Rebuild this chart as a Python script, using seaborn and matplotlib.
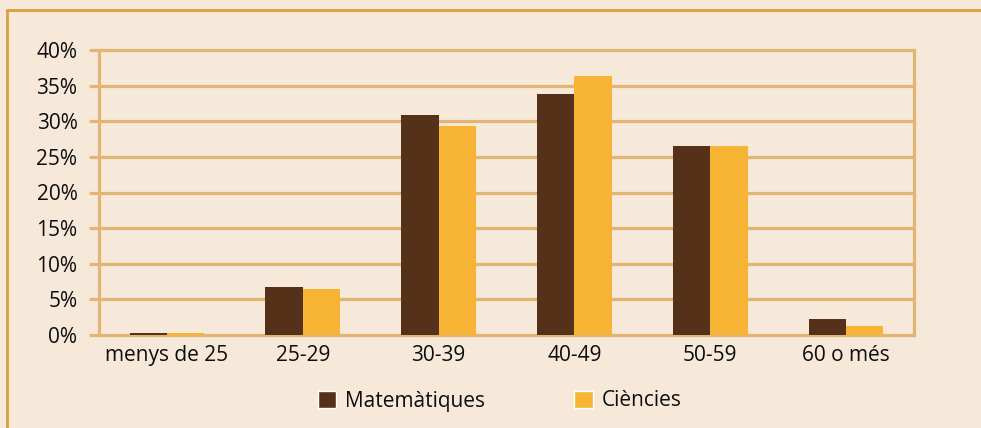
import matplotlib
matplotlib.use("Agg")
import matplotlib.pyplot as plt
import seaborn as sns
import pandas as pd
from matplotlib.lines import Line2D
from matplotlib.patches import Patch
from matplotlib.ticker import FuncFormatter

categories = ["menys de 25", "25-29", "30-39", "40-49", "50-59", "60 o més"]
matematiques = [0.35, 6.7, 30.9, 33.8, 26.5, 2.25]
ciencies = [0.3, 6.5, 29.4, 36.4, 26.5, 1.3]
series_names = ["Matemàtiques", "Ciències"]
yticks = [0, 5, 10, 15, 20, 25, 30, 35, 40]

BG = "#F6E9DA"
GRID = "#E3B574"
FRAME = "#D9A040"
colors = ["#56311A", "#F7B334"]

sns.set_theme(style="white")
plt.rcParams["font.family"] = ["Open Sans", "DejaVu Sans"]

df = pd.DataFrame({
    "cat": categories * 2,
    "val": matematiques + ciencies,
    "serie": [series_names[0]] * len(categories) + [series_names[1]] * len(categories),
})

fig = plt.figure(figsize=(9.81, 4.28), dpi=100, facecolor=BG)
ax = fig.add_axes([99 / 981, 1 - 335 / 428, (914 - 99) / 981, (335 - 50) / 428])
ax.set_facecolor(BG)

sns.barplot(data=df, x="cat", y="val", hue="serie", palette=colors,
            width=0.55, gap=0, saturation=1, ax=ax, legend=False, zorder=3,
            linewidth=0, edgecolor="none")

ax.set_ylim(0, 40)
ax.set_xlim(-0.5, 5.5)
ax.set_yticks(yticks)
ax.yaxis.set_major_formatter(FuncFormatter(lambda v, p: f"{int(v)}%"))
for y in yticks:
    ax.axhline(y, color=GRID, lw=2.3, zorder=1, clip_on=False)
ax.set_xlabel("")
ax.set_ylabel("")
for s in ["top", "bottom"]:
    ax.spines[s].set_visible(False)
for s in ["left", "right"]:
    ax.spines[s].set_visible(True)
    ax.spines[s].set_color(GRID)
    ax.spines[s].set_linewidth(2.3)
ax.tick_params(axis="y", length=7.5, width=2.3, color=GRID, pad=8, labelsize=15, labelcolor="#0d0d0d", left=True)
ax.tick_params(axis="x", length=0, pad=7, labelsize=15, labelcolor="#0d0d0d")

handles = [Patch(facecolor=colors[0]), Patch(facecolor=colors[1])]
fig.legend(handles, series_names, loc="center", bbox_to_anchor=(0.509, 1 - 401 / 428),
           ncol=2, frameon=False, fontsize=15, handlelength=0.9, handleheight=0.9,
           handletextpad=0.4, columnspacing=4.3, labelcolor="#0d0d0d")

fig.add_artist(Line2D([7 / 981, 1], [1 - 10 / 428] * 2, color=FRAME, lw=2, transform=fig.transFigure))
fig.add_artist(Line2D([7 / 981] * 2, [0, 1 - 10 / 428], color=FRAME, lw=2, transform=fig.transFigure))

fig.savefig("out.png", dpi=100, facecolor=BG)
